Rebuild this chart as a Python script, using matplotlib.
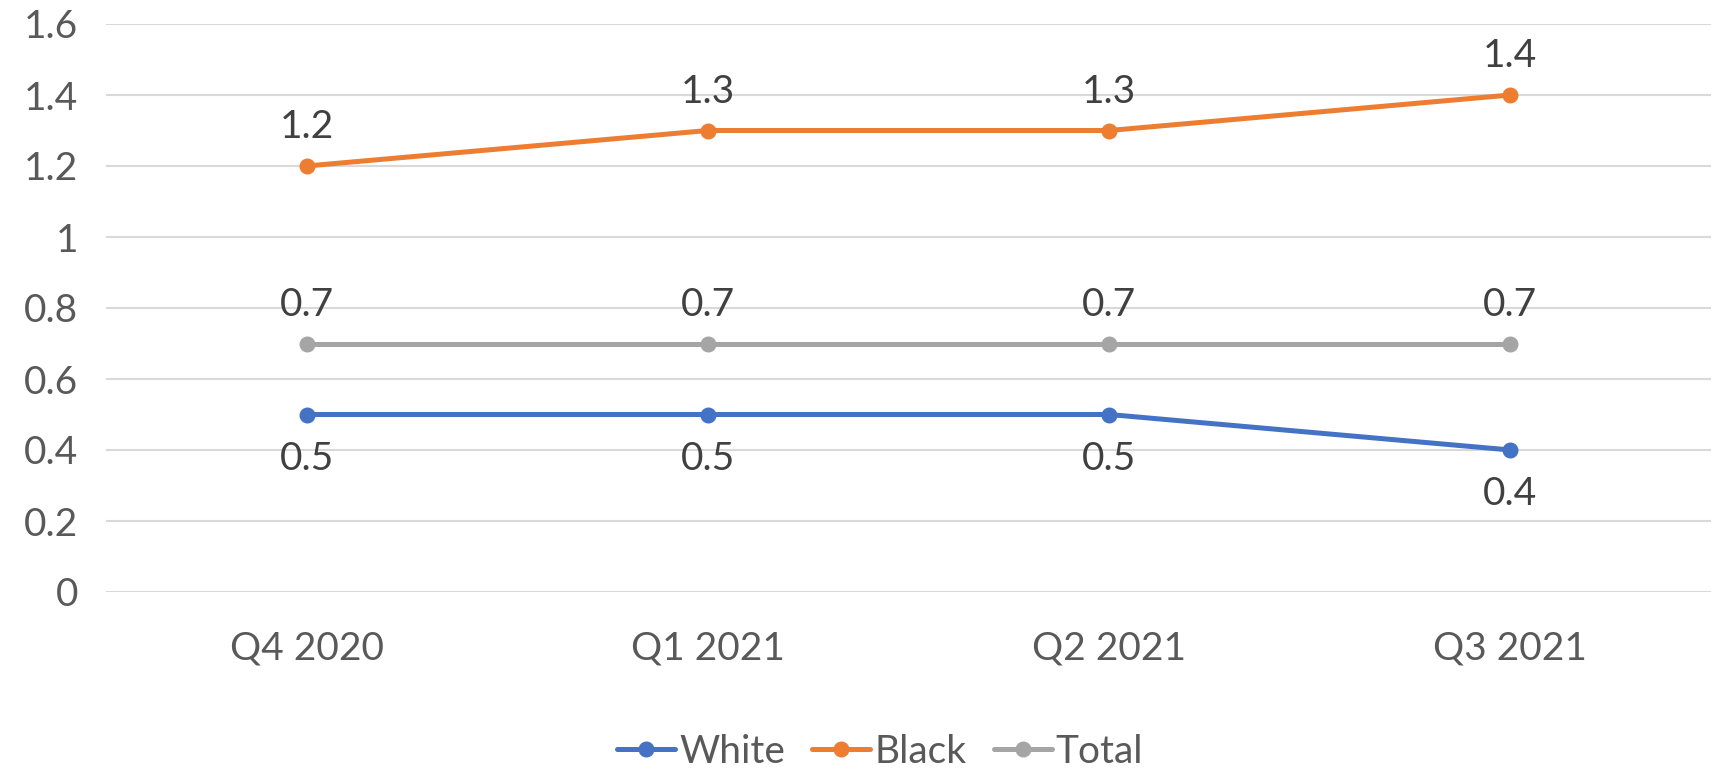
import numpy as np
import matplotlib.pyplot as plt

# quarters and the three series
quarters = ['Q4 2020', 'Q1 2021', 'Q2 2021', 'Q3 2021']
white = [0.5, 0.5, 0.5, 0.4]
black = [1.2, 1.3, 1.3, 1.4]
total = [0.7, 0.7, 0.7, 0.7]

series = [('White', white, '#4472C4', 'below'),
          ('Black', black, '#ED7D31', 'above'),
          ('Total', total, '#A5A5A5', 'above')]

plt.rcParams['font.family'] = ['Lato', 'DejaVu Sans']
text_color = '#595959'
fs = 28

fig = plt.figure(figsize=(17.19, 7.71), dpi=100)
ax = fig.add_axes([106 / 1719, 1 - 592 / 771, (1711 - 106) / 1719, (592 - 24) / 771])

x = np.arange(len(quarters))
for name, vals, color, side in series:
    ax.plot(x, vals, color=color, lw=3.6, marker='o', ms=10.5, label=name,
            solid_capstyle='round', zorder=3)
    for xi, v in zip(x, vals):
        off = 28 if side == 'above' else -32
        ax.annotate(f'{v:g}', (xi, v), xytext=(0, off), textcoords='offset points',
                    ha='center', va='center', fontsize=fs, color='#404040')

ax.set_xlim(-0.5, len(quarters) - 0.5)
ax.set_ylim(0, 1.6)
ax.set_yticks(np.arange(0, 1.61, 0.2))
ax.set_yticklabels(['0', '0.2', '0.4', '0.6', '0.8', '1', '1.2', '1.4', '1.6'])
ax.set_xticks(x)
ax.set_xticklabels(quarters)
ax.tick_params(axis='both', length=0, labelsize=fs, labelcolor=text_color)
ax.tick_params(axis='x', pad=28)
ax.tick_params(axis='y', pad=20)
ax.grid(axis='y', color='#D9D9D9', lw=1.5)
ax.set_axisbelow(True)
for s in ax.spines.values():
    s.set_visible(False)

fig.legend(loc='center', bbox_to_anchor=(880 / 1719, 1 - 752 / 771), ncol=3,
           frameon=False, fontsize=fs, labelcolor=text_color, handlelength=1.5,
           handletextpad=0.1, columnspacing=0.7)

fig.savefig('out.png', dpi=100, facecolor='white')
